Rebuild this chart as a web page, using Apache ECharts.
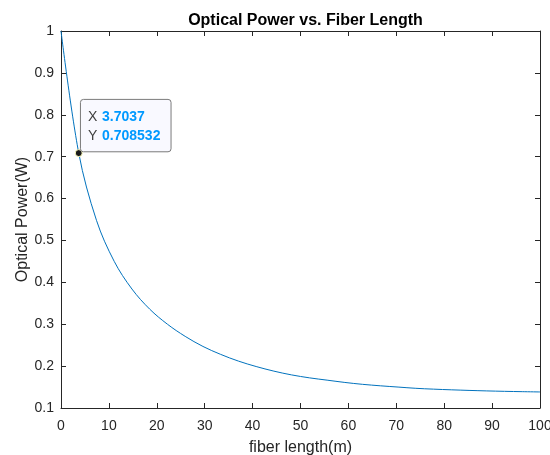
<!DOCTYPE html>
<html><head><meta charset="utf-8">
<script src="https://cdn.jsdelivr.net/npm/echarts@6/dist/echarts.min.js"></script>
<style>html,body{margin:0;padding:0;background:#fff}#c{width:550px;height:455px}</style>
</head><body><div id="c"></div>
<script>
const fiberLength = [0, 3.7037, 7.4074, 11.1111, 14.8148, 18.5185, 22.2222, 25.9259, 29.6296, 33.3333,
  37.0370, 40.7407, 44.4444, 48.1481, 51.8519, 55.5556, 59.2593, 62.9630, 66.6667, 70.3704,
  74.0741, 77.7778, 81.4815, 85.1852, 88.8889, 92.5926, 96.2963, 100];
const opticalPower = [1.000, 0.708532, 0.548, 0.450, 0.384, 0.336, 0.300, 0.271, 0.247, 0.228,
  0.212, 0.199, 0.188, 0.179, 0.172, 0.1665, 0.161, 0.1565, 0.153, 0.150,
  0.147, 0.145, 0.1434, 0.1420, 0.1408, 0.1398, 0.1390, 0.1383];
const xTicks = [0, 10, 20, 30, 40, 50, 60, 70, 80, 90, 100];
const yTicks = [0.1, 0.2, 0.3, 0.4, 0.5, 0.6, 0.7, 0.8, 0.9, 1];
const tipX = [3.7037];
const tipY = [0.708532];
const tipXText = ['3.7037'];
const tipYText = ['0.708532'];
const titleText = 'Optical Power vs. Fiber Length';
const xName = 'fiber length(m)';
const yName = 'Optical Power(W)';

const FONT = '"Liberation Sans", Arial, Helvetica, sans-serif';
const AX = '#262626';
const chart = echarts.init(document.getElementById('c'), null, {renderer: 'canvas'});
const xMin = xTicks[0], xMax = xTicks[xTicks.length - 1], xInt = xTicks[1] - xTicks[0];
const yMin = yTicks[0], yMax = yTicks[yTicks.length - 1];
const yInt = 0.1;
const fmtY = v => String(+(+v).toFixed(1));
const baseX = {
  type: 'value', min: xMin, max: xMax, interval: xInt,
  axisLine: {show: true, onZero: false, lineStyle: {color: AX, width: 1}},
  axisTick: {show: true, inside: true, length: 5, lineStyle: {color: AX}},
  splitLine: {show: false}
};
const baseY = {
  type: 'value', min: yMin, max: yMax, interval: yInt,
  axisLine: {show: true, onZero: false, lineStyle: {color: AX, width: 1}},
  axisTick: {show: true, inside: true, length: 5, lineStyle: {color: AX}},
  splitLine: {show: false}
};
chart.setOption({
  animation: false,
  backgroundColor: '#fff',
  title: {
    text: titleText, left: 300.5, top: 8, textAlign: 'center',
    textStyle: {fontFamily: FONT, fontSize: 16, fontWeight: 'bold', color: '#000'}
  },
  grid: {left: 61, top: 31, width: 479, height: 377, containLabel: false, outerBoundsMode: 'none'},
  xAxis: [
    Object.assign({}, baseX, {
      position: 'bottom', name: xName, nameLocation: 'middle', nameGap: 32, nameMoveOverlap: false,
      nameTextStyle: {fontFamily: FONT, fontSize: 16, color: AX},
      axisLabel: {show: true, margin: 11, fontFamily: FONT, fontSize: 14, color: AX}
    }),
    Object.assign({}, baseX, {position: 'top', axisLabel: {show: false}})
  ],
  yAxis: [
    Object.assign({}, baseY, {
      position: 'left', name: yName, nameLocation: 'middle', nameGap: 30, nameMoveOverlap: false,
      nameTextStyle: {fontFamily: FONT, fontSize: 16, color: AX},
      axisLabel: {show: true, margin: 7, fontFamily: FONT, fontSize: 14, color: AX, formatter: fmtY}
    }),
    Object.assign({}, baseY, {position: 'right', axisLabel: {show: false}})
  ],
  series: [{
    type: 'line',
    data: fiberLength.map((x, i) => [x, opticalPower[i]]),
    showSymbol: false,
    smooth: 0.35,
    lineStyle: {color: '#0072BD', width: 1},
    itemStyle: {color: '#0072BD'},
    markPoint: {
      symbol: 'circle', symbolSize: 7,
      itemStyle: {color: '#1a1a1a', borderColor: '#ffffc0', borderWidth: 1},
      label: {show: false},
      data: [{coord: [tipX[0], tipY[0]]}]
    }
  }]
});
const p = chart.convertToPixel({xAxisIndex: 0, yAxisIndex: 0}, [tipX[0], tipY[0]]);
chart.setOption({
  graphic: [
    {type: 'rect', z: 100, shape: {x: p[0] + 1.7, y: p[1] - 53.7, width: 90.6, height: 52.4, r: 3},
      style: {fill: '#f9f9ff', stroke: '#7a7a7a', lineWidth: 1}},
    {type: 'text', z: 101, x: p[0] + 9.3, y: p[1] - 36.3,
      style: {text: 'X', fill: '#404040', font: '14px ' + FONT, textVerticalAlign: 'middle'}},
    {type: 'text', z: 101, x: p[0] + 23.3, y: p[1] - 36.3,
      style: {text: tipXText[0], fill: '#0099ff', font: 'bold 14px ' + FONT, textVerticalAlign: 'middle'}},
    {type: 'text', z: 101, x: p[0] + 9.3, y: p[1] - 17.3,
      style: {text: 'Y', fill: '#404040', font: '14px ' + FONT, textVerticalAlign: 'middle'}},
    {type: 'text', z: 101, x: p[0] + 23.3, y: p[1] - 17.3,
      style: {text: tipYText[0], fill: '#0099ff', font: 'bold 14px ' + FONT, textVerticalAlign: 'middle'}}
  ]
});
</script>
</body></html>
